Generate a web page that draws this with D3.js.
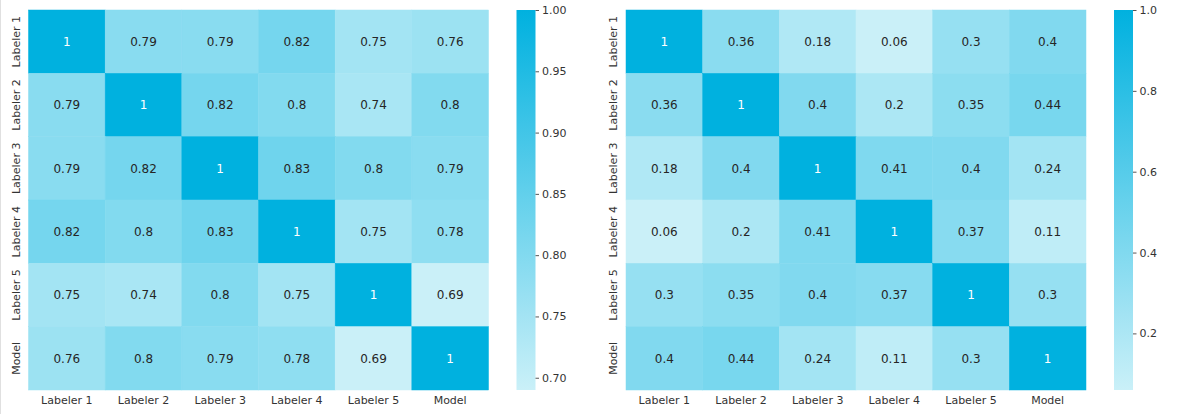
<!DOCTYPE html>
<html>
<head>
<meta charset="utf-8">
<script src="https://cdn.jsdelivr.net/npm/d3@7"></script>
<style>
  body { margin: 0; background: #fff; }
  text { font-family: "DejaVu Sans", sans-serif; }
</style>
</head>
<body>
<div id="chart"></div>
<script>
// labels shared by both matrices
const labels = ['Labeler 1', 'Labeler 2', 'Labeler 3', 'Labeler 4', 'Labeler 5', 'Model'];

// left heatmap values
const leftValues = [
  [1, 0.79, 0.79, 0.82, 0.75, 0.76],
  [0.79, 1, 0.82, 0.8, 0.74, 0.8],
  [0.79, 0.82, 1, 0.83, 0.8, 0.79],
  [0.82, 0.8, 0.83, 1, 0.75, 0.78],
  [0.75, 0.74, 0.8, 0.75, 1, 0.69],
  [0.76, 0.8, 0.79, 0.78, 0.69, 1]
];
const leftDomain = [0.69, 1];
const leftTicks = [0.70, 0.75, 0.80, 0.85, 0.90, 0.95, 1.00];

// right heatmap values
const rightValues = [
  [1, 0.36, 0.18, 0.06, 0.3, 0.4],
  [0.36, 1, 0.4, 0.2, 0.35, 0.44],
  [0.18, 0.4, 1, 0.41, 0.4, 0.24],
  [0.06, 0.2, 0.41, 1, 0.37, 0.11],
  [0.3, 0.35, 0.4, 0.37, 1, 0.3],
  [0.4, 0.44, 0.24, 0.11, 0.3, 1]
];
const rightDomain = [0.06, 1];
const rightTicks = [0.2, 0.4, 0.6, 0.8, 1.0];

const svg = d3.select('#chart')
  .append('svg')
  .attr('width', 1180)
  .attr('height', 414);

// faint frame line on the far left
svg.append('line')
  .attr('x1', 0.5).attr('x2', 0.5)
  .attr('y1', 0).attr('y2', 414)
  .attr('stroke', '#e0e0e0');

function luminance(c) {
  const rgb = d3.rgb(c);
  const lin = v => { v /= 255; return v <= 0.03928 ? v / 12.92 : Math.pow((v + 0.055) / 1.055, 2.4); };
  return 0.2126 * lin(rgb.r) + 0.7152 * lin(rgb.g) + 0.0722 * lin(rgb.b);
}

function drawHeatmap(data, left, domain, ticks, tickFormat) {
  const top = 10, size = 460, height = 380;
  const g = svg.append('g');

  const x = d3.scaleBand().domain(labels).range([left, left + size]);
  const y = d3.scaleBand().domain(labels).range([top, top + height]);
  const color = d3.scaleLinear()
    .domain(domain)
    .range(['#caf0f8', '#00b1df'])
    .interpolate(d3.interpolateRgb)
    .clamp(true);

  const cells = [];
  data.forEach((row, i) => row.forEach((v, j) => cells.push({ r: labels[i], c: labels[j], v })));

  g.selectAll('rect.cell')
    .data(cells)
    .enter().append('rect')
    .attr('class', 'cell')
    .attr('x', d => x(d.c))
    .attr('y', d => y(d.r))
    .attr('width', x.bandwidth())
    .attr('height', y.bandwidth())
    .attr('fill', d => color(d.v))
    .attr('stroke', d => color(d.v))
    .attr('stroke-width', 0.5);

  g.selectAll('text.annot')
    .data(cells)
    .enter().append('text')
    .attr('class', 'annot')
    .attr('x', d => x(d.c) + x.bandwidth() / 2)
    .attr('y', d => y(d.r) + y.bandwidth() / 2)
    .attr('dy', '0.36em')
    .attr('text-anchor', 'middle')
    .attr('font-size', 12)
    .attr('fill', d => luminance(color(d.v)) > 0.408 ? '#262626' : '#ffffff')
    .text(d => d3.format('~g')(d.v));

  // bottom labels
  const xAxis = g.append('g')
    .attr('transform', `translate(0,${top + height})`)
    .call(d3.axisBottom(x).tickSize(0).tickPadding(6));
  xAxis.select('.domain').remove();
  xAxis.selectAll('text').attr('font-size', 11).attr('fill', '#333').attr('font-family', '"DejaVu Sans", sans-serif');

  // left labels, rotated
  const yAxis = g.append('g')
    .attr('transform', `translate(${left},0)`)
    .call(d3.axisLeft(y).tickSize(0).tickPadding(0));
  yAxis.select('.domain').remove();
  yAxis.selectAll('text')
    .attr('font-size', 11).attr('fill', '#333')
    .attr('font-family', '"DejaVu Sans", sans-serif')
    .attr('text-anchor', 'middle')
    .attr('x', 0).attr('dy', 0)
    .attr('transform', 'translate(-9,0) rotate(-90)');

  // colorbar
  const cbX = left + size + 28, cbW = 19;
  const cy = d3.scaleLinear().domain(domain).range([top + height, top]);
  const gradId = 'grad' + left;
  const grad = svg.append('defs').append('linearGradient')
    .attr('id', gradId)
    .attr('x1', 0).attr('x2', 0).attr('y1', 1).attr('y2', 0);
  d3.range(0, 1.001, 0.1).forEach(t => {
    grad.append('stop')
      .attr('offset', t)
      .attr('stop-color', color(domain[0] + t * (domain[1] - domain[0])));
  });
  g.append('rect')
    .attr('x', cbX).attr('y', top)
    .attr('width', cbW).attr('height', height)
    .attr('fill', `url(#${gradId})`);

  const cAxis = g.append('g')
    .attr('transform', `translate(${cbX + cbW},0)`)
    .call(d3.axisRight(cy).tickValues(ticks).tickFormat(d3.format(tickFormat)).tickSize(3.5).tickPadding(3));
  cAxis.select('.domain').remove();
  cAxis.selectAll('line').attr('stroke', '#555');
  cAxis.selectAll('text').attr('font-size', 11).attr('fill', '#333').attr('font-family', '"DejaVu Sans", sans-serif');
}

drawHeatmap(leftValues, 28.5, leftDomain, leftTicks, '.2f');
drawHeatmap(rightValues, 626, rightDomain, rightTicks, '.1f');
</script>
</body>
</html>
